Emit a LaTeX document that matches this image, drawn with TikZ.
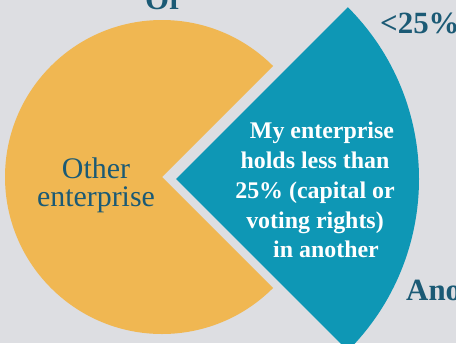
\documentclass[tikz,border=0pt]{standalone}
\usepackage{fontspec}
\setmainfont{Liberation Serif}
\begin{document}
\begin{tikzpicture}[x=1bp,y=1bp]

	\def\rother{157}
	\def\rmine{243}
	
	% Colours
	\definecolor{bgcolor}{HTML}{DDDEE2}
	\definecolor{othercolor}{HTML}{F0B752}
	\definecolor{minecolor}{HTML}{0E97B5}
	\definecolor{tagcolor}{HTML}{1B5A75}
	
	% Styles
	\tikzstyle{bigtag}=[text=tagcolor, font=\fontsize{31}{31}\selectfont\bfseries, inner sep=0pt]
	\tikzstyle{slicetext}=[align=center, inner sep=0pt]
	
	% Background
	\useasboundingbox (0,0) rectangle (456,343);
	\fill[bgcolor] (0,0) rectangle (456,343);
	\clip (0,0) rectangle (456,343);
	
	% Slices
	\fill[othercolor] (162,166) coordinate(O) -- ++(45:\rother) arc(45:315:\rother) -- cycle;
	\fill[minecolor] (176,164) coordinate(M) -- ++(-45:\rmine) arc(-45:45:\rmine) -- cycle;
	
	% Texts
	\node[slicetext, text=tagcolor, font=\fontsize{30}{28}\selectfont] (other) at (96,158)
		{Other\\enterprise};
	\node[slicetext, text=white, font=\fontsize{24}{30}\selectfont\bfseries] (mine) at (315,153)
		{\hspace*{14bp}My enterprise\\holds less than\\25\% (capital or\hspace*{12bp}\\voting rights)\\\hspace*{22bp}in another};
	
	\node[bigtag, anchor=base] (or) at (164,334) {Or};
	\node[bigtag, anchor=base west] (less) at (380,310) {<25\%};
	\node[bigtag, anchor=base west] (another) at (406,43) {Another};

\end{tikzpicture}
\end{document}
